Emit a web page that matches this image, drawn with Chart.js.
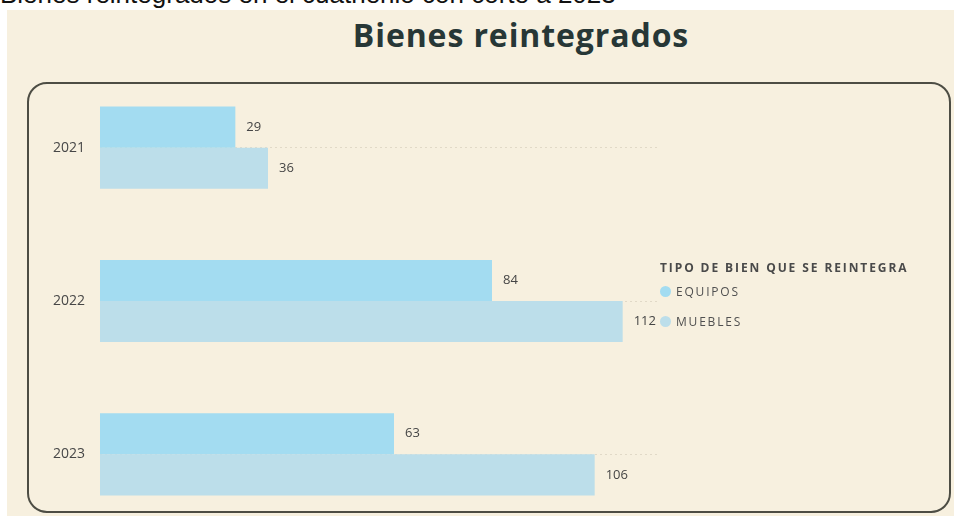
<!DOCTYPE html>
<html>
<head>
<meta charset="utf-8">
<script src="https://cdn.jsdelivr.net/npm/chart.js@4.4.1/dist/chart.umd.min.js"></script>
<style>
    html, body { margin: 0; padding: 0; }
    body { width: 954px; height: 519px; overflow: hidden; position: relative; background: #ffffff; font-family: "Open Sans", sans-serif; }
    .top-text { position: absolute; left: 0; top: -21px; font-family: "Liberation Sans", Arial, sans-serif; font-size: 26px; line-height: 30px; color: #111; white-space: nowrap; }
    .panel { position: absolute; left: 7px; top: 10px; width: 947px; height: 506px; background: #f7f0df; }
    .title { position: absolute; left: 0; width: 1042px; top: 13px; text-align: center; font-size: 32px; font-weight: 700; color: #273736; letter-spacing: 0.9px; }
    .box { position: absolute; left: 27px; top: 82px; width: 920px; height: 427px; border: 2px solid #4d4d44; border-radius: 20px; }
    #chartWrap { position: absolute; left: 0; top: 0; width: 954px; height: 560px; }
    .legend { position: absolute; left: 660px; top: 259px; color: #505050; }
    .legend .ltitle { font-size: 12px; font-weight: 700; letter-spacing: 1.9px; color: #4a4a4a; margin-bottom: 1px; }
    .legend .item { display: flex; align-items: center; font-size: 12px; letter-spacing: 1.8px; height: 16px; margin-top: 14px; }
    .legend .item.first { margin-top: 7px; }
    .legend .dot { width: 11px; height: 11px; border-radius: 50%; margin-right: 5px; }
</style>
</head>
<body>
<div class="top-text">Bienes reintegrados en el cuatrienio con corte a 2023</div>
<div class="panel"></div>
<div class="title">Bienes reintegrados</div>
<div class="box"></div>
<div id="chartWrap"><canvas id="barChart" width="954" height="560"></canvas></div>
<div class="legend" id="legend"></div>

<script>
// ===== 数据 =====
const years = ['2021', '2022', '2023'];
const equipos = [29, 84, 63];
const muebles = [36, 112, 106];
const seriesNames = ['EQUIPOS', 'MUEBLES'];
const legendTitle = 'TIPO DE BIEN QUE SE REINTEGRA';

const colorEquipos = '#a3dcf1';
const colorMuebles = '#bcdeea';

// 数值标签（柱子右侧）
const valueLabels = {
    id: 'valueLabels',
    afterDatasetsDraw(chart) {
        const ctx = chart.ctx;
        ctx.save();
        ctx.font = '13px "Open Sans", sans-serif';
        ctx.fillStyle = '#454545';
        ctx.textAlign = 'left';
        ctx.textBaseline = 'middle';
        chart.data.datasets.forEach((ds, di) => {
            chart.getDatasetMeta(di).data.forEach((bar, i) => {
                ctx.fillText(ds.data[i], bar.x + 11, bar.y);
            });
        });
        ctx.restore();
    }
};

const ctx = document.getElementById('barChart').getContext('2d');
const barChart = new Chart(ctx, {
    type: 'bar',
    data: {
        labels: years,
        datasets: [
            {
                label: seriesNames[0],
                data: equipos,
                backgroundColor: colorEquipos,
                borderWidth: 0,
                categoryPercentage: 0.536,
                barPercentage: 1.0
            },
            {
                label: seriesNames[1],
                data: muebles,
                backgroundColor: colorMuebles,
                borderWidth: 0,
                categoryPercentage: 0.536,
                barPercentage: 1.0
            }
        ]
    },
    options: {
        indexAxis: 'y',
        responsive: false,
        animation: false,
        layout: { padding: { left: 0, right: 294, top: 71, bottom: 29 } },
        scales: {
            x: { display: false, min: 0, max: 120 },
            y: {
                afterFit(scale) { scale.width = 100; },
                border: { display: false, dash: [2, 3] },
                grid: {
                    offset: false,
                    drawTicks: false,
                    color: 'rgba(175,165,145,0.3)',
                    lineWidth: 1
                },
                ticks: {
                    padding: 15,
                    color: '#474747',
                    font: { family: 'Open Sans', size: 14 }
                }
            }
        },
        plugins: {
            legend: { display: false },
            tooltip: { enabled: false }
        }
    },
    plugins: [valueLabels]
});

// 图例（HTML）
const legendEl = document.getElementById('legend');
let html = `<div class="ltitle">${legendTitle}</div>`;
barChart.data.datasets.forEach((ds, i) => {
    html += `<div class="item${i === 0 ? ' first' : ''}"><span class="dot" style="background:${ds.backgroundColor}"></span>${ds.label}</div>`;
});
legendEl.innerHTML = html;
</script>
</body>
</html>
